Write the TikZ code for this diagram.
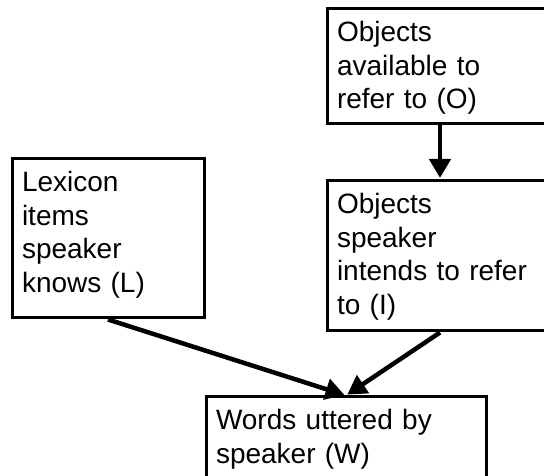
\documentclass[tikz,border=0pt]{standalone}
\usepackage{fontspec}
\setmainfont{Liberation Sans}
\usepackage{tikz}
\usetikzlibrary{arrows.meta}

\begin{document}
\begin{tikzpicture}[->, >={Triangle[length=19pt,width=21pt]}, shorten >=1.5pt, x=1pt, y=1pt, line width=4.5pt,
  box/.style={rectangle, draw, line width=3pt, align=left, inner xsep=10pt, inner ysep=13pt, text height=20pt, font=\fontsize{28pt}{33.5pt}\selectfont}]
\useasboundingbox (0,0) rectangle (544,476);
\clip (0,0) rectangle (544,476);
\node[box, text width=172pt, text depth=113pt] at (108,237.5) (lex) {Lexicon\\items\\speaker\\knows (L)};
\node[box, text width=206pt, text depth=69pt] at (440,409.5) (avail) {Objects\\available to\\refer to (O)};
\node[box, text width=206pt, text depth=104pt] at (440,220) (intend) {Objects\\speaker\\intends to refer\\to (I)};
\node[box, text width=260pt, text depth=43pt] at (346,34.5) (words) {Words uttered by\\speaker (W)};
\draw (avail) -- (intend);
\draw (lex.south) -- (words.north);
\draw (intend.south) -- (words.north);
\end{tikzpicture}
\end{document}
